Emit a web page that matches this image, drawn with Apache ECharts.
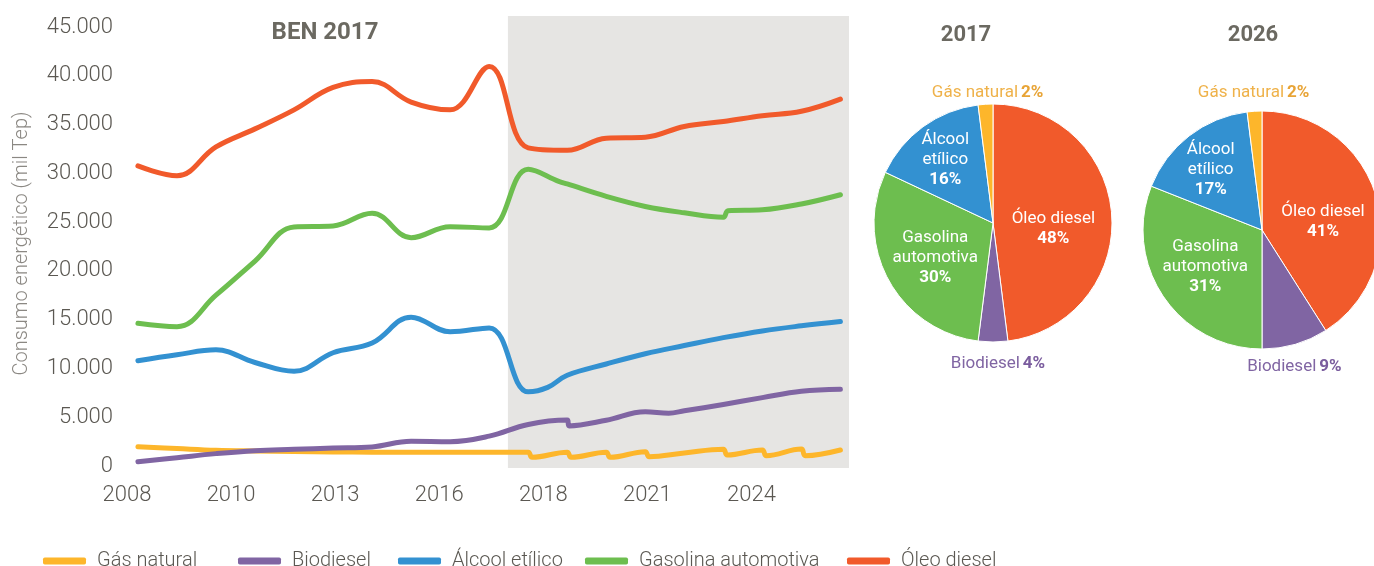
<!DOCTYPE html>
<html lang="pt-BR">
<head>
<meta charset="utf-8">
<title>Consumo energético - BEN 2017 / PDE 2026</title>
<script src="https://cdn.jsdelivr.net/npm/echarts@6/dist/echarts.min.js"></script>
<style>
  html, body { margin: 0; padding: 0; background: #fff; }
  #grafico { width: 1374px; height: 566px; }
</style>
</head>
<body>
<div id="grafico"></div>
<script>
// valores, em mil Tep
const rotulosAnos = ['2008', '2010', '2013', '2016', '2018', '2021', '2024']

const anosGasNatural = [2008, 2009, 2010, 2011, 2012, 2013, 2014, 2015, 2016, 2017,
  2018, 2018.1, 2019, 2019.1, 2020, 2020.1, 2021, 2021.1, 2022, 2023, 2023.1,
  2024, 2024.1, 2025, 2025.1, 2026]
const gasNatural = [1670, 1480, 1300, 1230, 1190, 1140, 1110, 1100, 1090, 1090,
  1100, 580, 1100, 580, 1100, 580, 1160, 650, 1030, 1400, 820,
  1330, 750, 1435, 750, 1330]

const anosBiodiesel = [2008, 2009, 2010, 2011, 2012, 2013, 2014, 2015, 2016, 2017, 2018,
  2019, 2019.05, 2020, 2021, 2021.6, 2022, 2023, 2024, 2025, 2026]
const biodiesel = [130, 545, 960, 1265, 1400, 1530, 1650, 2230, 2190, 2750, 3950,
  4400, 3800, 4380, 5250, 5100, 5350, 6000, 6700, 7350, 7550]

const anosAlcool = [2008, 2009, 2010, 2011, 2012, 2013, 2014, 2015, 2016, 2017, 2018,
  2018.5, 2019, 2020, 2021, 2022, 2023, 2024, 2025, 2026]
const alcool = [10480, 11100, 11600, 10300, 9400, 11300, 12300, 14950, 13450, 13850, 7300,
  7750, 9000, 10150, 11200, 12040, 12850, 13540, 14060, 14500]

const anosGasolina = [2008, 2009, 2010, 2011, 2012, 2013, 2014, 2015, 2016, 2017, 2018,
  2018.8, 2019, 2020, 2021, 2022, 2023, 2023.12, 2024, 2025, 2026]
const gasolina = [14320, 13970, 17200, 20700, 24200, 24300, 25600, 23100, 24220, 24100, 30100,
  28850, 28600, 27330, 26300, 25650, 25200, 25850, 25950, 26550, 27500]

const anosOleo = [2008, 2009, 2010, 2011, 2012, 2013, 2014, 2015, 2016, 2017, 2018,
  2019, 2020, 2021, 2022, 2023, 2024, 2025, 2026]
const oleoDiesel = [30450, 29450, 32400, 34250, 36200, 38500, 39100, 37000, 36200, 40650, 32300,
  32050, 33300, 33400, 34500, 35000, 35600, 36050, 37300]

// participação (%) nas pizzas, no sentido horário a partir do topo
const nomesPizza = ['Óleo diesel', 'Biodiesel', 'Gasolina automotiva', 'Álcool etílico', 'Gás natural']
const pizza2017 = [48, 4, 30, 16, 2]
const pizza2026 = [41, 9, 31, 17, 2]

const nomesLegenda = ['Gás natural', 'Biodiesel', 'Álcool etílico', 'Gasolina automotiva', 'Óleo diesel']

const cores = {
  'Gás natural': '#FDB62B',
  'Biodiesel': '#8065A3',
  'Álcool etílico': '#3391D1',
  'Gasolina automotiva': '#6DBE4F',
  'Óleo diesel': '#F15A2B'
}

const fonte = 'Roboto, "Liberation Sans", sans-serif'
const corTexto = '#5b5852'
const corTitulo = '#6b6961'

// no eixo original os pontos anuais ficam um pouco depois da marca do ano
const DESLOC = 0.28
const PASSO_X = 8 / 3
const X_MAX = 2026.5
const INICIO_PDE = 2017.76
// início de cada item da legenda (o Excel não usa espaçamento uniforme)
const posLegenda = [38, 233, 393, 580, 842]

const milhar = (v) => String(v).replace(/\B(?=(\d{3})+(?!\d))/g, '.')

const linha = (nome, anos, valores) => ({
  name: nome,
  type: 'line',
  xAxisIndex: 0,
  yAxisIndex: 0,
  data: anos.map((a, i) => [a + DESLOC, valores[i]]),
  smooth: 0.4,
  showSymbol: false,
  symbol: 'none',
  lineStyle: { width: 5, color: cores[nome], cap: 'round', join: 'round' },
  itemStyle: { color: cores[nome] },
  z: 3
})

const externos = ['Gás natural', 'Biodiesel']
const quebraNome = {
  'Álcool etílico': 'Álcool\netílico',
  'Gasolina automotiva': 'Gasolina\nautomotiva'
}

const pizza = (nome, valores, centro, ajustes) => ({
  name: nome,
  type: 'pie',
  center: centro,
  radius: 119,
  avoidLabelOverlap: false,
  itemStyle: { borderColor: '#fff', borderWidth: 1 },
  data: nomesPizza.map((n, i) => ({
    name: n,
    value: valores[i],
    itemStyle: { color: cores[n] },
    label: { position: externos.includes(n) ? 'outside' : 'inside' }
  })),
  label: {
    distanceToLabelLine: 0,
    fontFamily: fonte,
    formatter: (p) => {
      const pct = Math.round(p.percent) + '%'
      if (p.name === 'Gás natural') return `{g|${p.name}} {gb|${pct}}`
      if (p.name === 'Biodiesel') return `{b|${p.name}} {bb|${pct}}`
      return `{n|${quebraNome[p.name] || p.name}}\n{p|${pct}}`
    },
    rich: {
      n: { color: '#fff', fontSize: 17, lineHeight: 20, fontFamily: fonte, align: 'center' },
      p: { color: '#fff', fontSize: 17, lineHeight: 20, fontFamily: fonte, fontWeight: 'bold', align: 'center' },
      g: { color: '#EFB24A', fontSize: 17, fontFamily: fonte },
      gb: { color: '#E8A436', fontSize: 17, fontFamily: fonte, fontWeight: 'bold' },
      b: { color: '#8065A3', fontSize: 17, fontFamily: fonte },
      bb: { color: '#7A5C9E', fontSize: 17, fontFamily: fonte, fontWeight: 'bold' }
    }
  },
  labelLine: { show: false, length: 15, length2: 0 },
  labelLayout: (p) => {
    const n = nomesPizza[p.dataIndex]
    const [dx, dy] = ajustes[n] || [0, 0]
    return externos.includes(n) ? { dx, dy, align: 'center' } : { dx, dy }
  },
  emphasis: { disabled: true },
  z: 3
})

const grafico = echarts.init(document.getElementById('grafico'))

const option = {
  animation: false,
  textStyle: { fontFamily: fonte },
  graphic: [
    { type: 'text', x: 325, y: 33, style: { text: 'BEN 2017', fill: corTitulo, fontSize: 24, fontWeight: 'bold', fontFamily: fonte, align: 'center', verticalAlign: 'middle' } },
    { type: 'text', x: 684, y: 33, style: { text: 'PDE 2026', fill: corTitulo, fontSize: 24, fontWeight: 'bold', fontFamily: fonte, align: 'center', verticalAlign: 'middle' } },
    { type: 'text', x: 966, y: 35, style: { text: '2017', fill: corTitulo, fontSize: 22, fontWeight: 'bold', fontFamily: fonte, align: 'center', verticalAlign: 'middle' } },
    { type: 'text', x: 1253, y: 35, style: { text: '2026', fill: corTitulo, fontSize: 22, fontWeight: 'bold', fontFamily: fonte, align: 'center', verticalAlign: 'middle' } }
  ],
  legend: nomesLegenda.map((nome, i) => ({
    data: [nome],
    left: posLegenda[i],
    top: 546,
    icon: 'roundRect',
    itemWidth: 43,
    itemHeight: 7,
    selectedMode: false,
    textStyle: { fontSize: 20, color: corTexto, fontFamily: fonte, fontWeight: 300, padding: [0, 0, 0, 6] }
  })),
  grid: [
    { left: 127, right: 525, top: 24, bottom: 103 },
    { left: 127, right: 525, top: 16, bottom: 98 }
  ],
  xAxis: [
    {
      type: 'value',
      gridIndex: 0,
      min: 2008,
      max: X_MAX,
      interval: PASSO_X,
      axisLine: { show: false },
      axisTick: { show: false },
      splitLine: { show: false },
      axisLabel: {
        margin: 21,
        fontSize: 22,
        color: corTexto,
        fontFamily: fonte,
        fontWeight: 300,
        showMaxLabel: false,
        formatter: (v) => rotulosAnos[Math.round((v - 2008) / PASSO_X)] || ''
      }
    },
    { type: 'value', gridIndex: 1, min: 2008, max: X_MAX, show: false }
  ],
  yAxis: [
    {
      type: 'value',
      gridIndex: 0,
      min: 0,
      max: 45000,
      interval: 5000,
      name: 'Consumo energético (mil Tep)',
      nameLocation: 'middle',
      nameGap: 95,
      nameTextStyle: { fontSize: 20, color: '#8b8883', fontFamily: fonte, fontWeight: 300 },
      axisLine: { show: false },
      axisTick: { show: false },
      splitLine: { show: false },
      axisLabel: {
        margin: 14,
        fontSize: 22,
        color: corTexto,
        fontFamily: fonte,
        fontWeight: 300,
        formatter: (v) => `{v|${milhar(v)}}`,
        rich: { v: { fontSize: 22, color: corTexto, fontFamily: fonte, fontWeight: 300, padding: [6, 0, 0, 0] } }
      }
    },
    { type: 'value', gridIndex: 1, min: 0, max: 1, show: false }
  ],
  series: [
    {
      name: 'Faixa PDE',
      type: 'line',
      xAxisIndex: 1,
      yAxisIndex: 1,
      data: [],
      silent: true,
      z: 1,
      markArea: {
        silent: true,
        itemStyle: { color: '#E6E5E3' },
        data: [[{ xAxis: INICIO_PDE }, { xAxis: X_MAX }]]
      }
    },
    linha('Gás natural', anosGasNatural, gasNatural),
    linha('Biodiesel', anosBiodiesel, biodiesel),
    linha('Álcool etílico', anosAlcool, alcool),
    linha('Gasolina automotiva', anosGasolina, gasolina),
    linha('Óleo diesel', anosOleo, oleoDiesel),
    pizza('2017', pizza2017, [993, 223], {
      'Óleo diesel': [-2, 10], 'Biodiesel': [5, 7], 'Gasolina automotiva': [-3, 5],
      'Álcool etílico': [-11, -13], 'Gás natural': [3, 3]
    }),
    pizza('2026', pizza2026, [1262, 230], {
      'Óleo diesel': [1, 9], 'Biodiesel': [-5, 8], 'Gasolina automotiva': [-5, 2],
      'Álcool etílico': [-13, -11], 'Gás natural': [0, -4]
    })
  ]
}

grafico.setOption(option)
</script>
</body>
</html>
